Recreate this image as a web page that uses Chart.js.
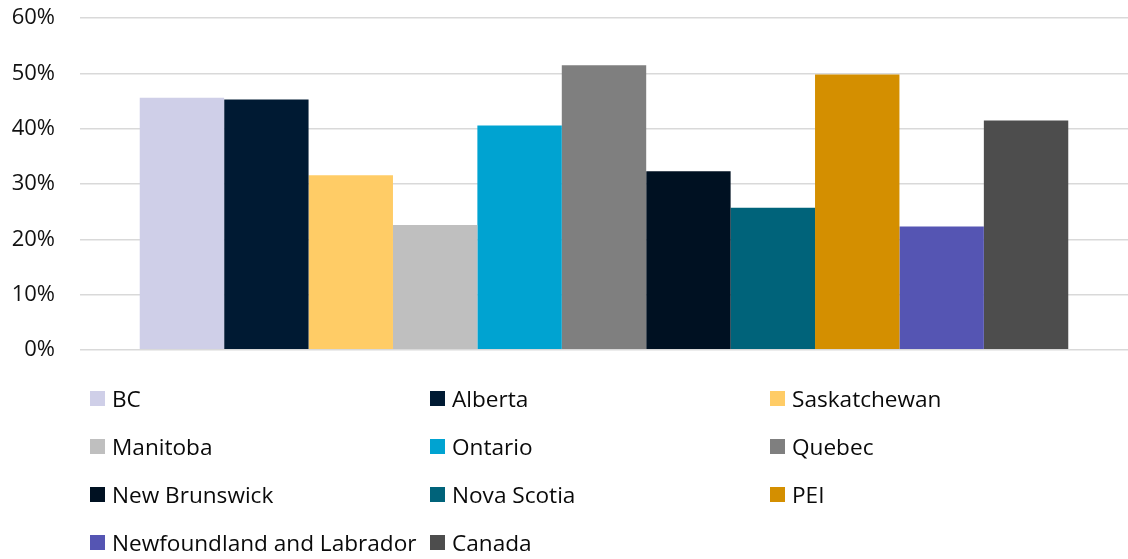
<!DOCTYPE html>
<html>
<head>
<meta charset="utf-8">
<script src="https://cdn.jsdelivr.net/npm/chart.js@4"></script>
<style>
  body { margin: 0; background: #fff; font-family: "Open Sans", "Noto Sans", sans-serif; }
  #wrap { position: relative; width: 1128px; height: 559px; overflow: hidden; }
  #box { position: absolute; left: 0; top: -20px; width: 1128px; height: 408px; }
  #legend { position: absolute; left: 90px; top: 386px; display: grid;
    grid-template-columns: 340px 340px 340px; grid-auto-rows: 48px; }
  .item { display: flex; align-items: center; height: 24px; font-size: 22.6px; color: #0a0a0a; white-space: nowrap; }
  .sw { width: 15px; height: 15px; margin-right: 7px; flex: none; }
</style>
</head>
<body>
<div id="wrap">
  <div id="box"><canvas id="chart"></canvas></div>
  <div id="legend"></div>
</div>
<script>
'use strict';

// one category, one bar per province
const regions = ['BC', 'Alberta', 'Saskatchewan', 'Manitoba', 'Ontario', 'Quebec',
  'New Brunswick', 'Nova Scotia', 'PEI', 'Newfoundland and Labrador', 'Canada'];
const shares = [0.456, 0.453, 0.316, 0.226, 0.406, 0.515, 0.323, 0.257, 0.498, 0.223, 0.415];
const colors = ['#CFCFE8', '#001A33', '#FFCC66', '#BFBFBF', '#00A3D1', '#7F7F7F',
  '#001122', '#00637A', '#D48F00', '#5555B3', '#4D4D4D'];
const yTicks = [0, 0.1, 0.2, 0.3, 0.4, 0.5, 0.6];

const datasets = regions.map((name, i) => ({
  label: name,
  data: [shares[i]],
  backgroundColor: colors[i],
  borderWidth: 0
}));

const chart = new Chart(document.getElementById('chart'), {
  type: 'bar',
  data: { labels: [''], datasets: datasets },
  options: {
    responsive: true,
    maintainAspectRatio: false,
    animation: false,
    layout: { padding: 0 },
    plugins: { legend: { display: false }, tooltip: { enabled: false } },
    datasets: { bar: { categoryPercentage: 0.886, barPercentage: 1 } },
    scales: {
      x: { display: false },
      y: {
        min: 0,
        max: 0.6,
        afterBuildTicks: axis => { axis.ticks = yTicks.map(v => ({ value: v })); },
        afterFit: axis => { axis.width = 80; },
        ticks: {
          padding: 25,
          color: '#111',
          font: { family: 'Open Sans', size: 22 },
          callback: v => Math.round(v * 100) + '%'
        },
        grid: { color: '#D9D9D9', lineWidth: 1.5, drawTicks: false },
        border: { display: false }
      }
    }
  }
});

// legend in three fixed columns, like the original
const legend = document.getElementById('legend');
chart.data.datasets.forEach(ds => {
  const item = document.createElement('div');
  item.className = 'item';
  const sw = document.createElement('span');
  sw.className = 'sw';
  sw.style.background = ds.backgroundColor;
  item.appendChild(sw);
  item.appendChild(document.createTextNode(ds.label));
  legend.appendChild(item);
});
</script>
</body>
</html>
